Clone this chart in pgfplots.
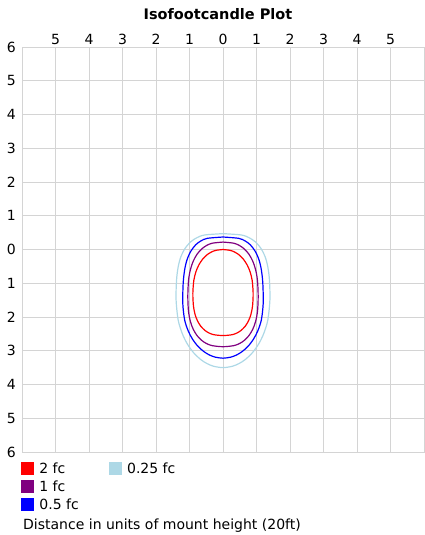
\documentclass[border=0pt]{standalone}
\usepackage{pgfplots}
\pgfplotsset{compat=1.18}
\usepackage{fontspec}
\setmainfont{DejaVu Sans}
\definecolor{gridgray}{HTML}{D4D4D4}
\definecolor{fcred}{HTML}{FF0000}
\definecolor{fcpurple}{HTML}{800080}
\definecolor{fcblue}{HTML}{0000FF}
\definecolor{fclight}{HTML}{ADD8E6}
\pgfplotsset{sq/.style={legend image code/.code={\fill[#1] (0pt,-6pt) rectangle (12pt,6pt);}}}
\begin{document}
\begin{tikzpicture}
\useasboundingbox (-22pt,-83pt) rectangle (402pt,452pt);
\begin{axis}[
 at={(0pt,0pt)}, anchor=south west,
 scale only axis, width=402pt, height=405pt,
 xmin=-6, xmax=6, ymin=-6, ymax=6,
 axis line style={draw=gridgray, line width=0.8pt},
 xtick={-5,...,5}, xticklabels={5,4,3,2,1,0,1,2,3,4,5},
 ytick={-6,...,6}, yticklabels={6,5,4,3,2,1,0,1,2,3,4,5,6},
 xticklabel pos=top,
 major tick length=0pt,
 grid=major, grid style={draw=gridgray, line width=0.8pt},
 tick label style={font=\fontsize{14}{14}\selectfont, inner sep=0pt},
 xticklabel style={anchor=base, yshift=3pt},
 yticklabel style={anchor=east, xshift=-6pt},
 title={Isofootcandle Plot},
 title style={font=\fontsize{14.5}{15}\selectfont\bfseries, at={(rel axis cs:0.5,1)}, anchor=base, yshift=22pt, xshift=-5pt, inner sep=0pt},
 xlabel={Distance in units of mount height (20ft)},
 xlabel style={font=\fontsize{14}{14}\selectfont, at={(rel axis cs:0,0)}, anchor=base west, yshift=-77pt, xshift=1pt, inner sep=0pt},
 legend columns=2,
 legend cell align=left,
 legend style={draw=none, fill=none, at={(0,0)}, anchor=north west, xshift=-1pt, yshift=-10pt, inner sep=0pt, outer sep=0pt, row sep=5.5pt, font=\fontsize{14}{14}\selectfont, nodes={inner sep=1pt, text height=10pt, text depth=0pt}, /tikz/every odd column/.style={column sep=5pt}, /tikz/every even column/.style={column sep=29pt}},
]
\addlegendimage{sq=fcred}\addlegendentry{2 fc}
\addlegendimage{sq=fclight}\addlegendentry{0.25 fc}
\addlegendimage{sq=fcpurple}\addlegendentry{1 fc}
\addlegendimage{empty legend}\addlegendentry{}
\addlegendimage{sq=fcblue}\addlegendentry{0.5 fc}
% 0.25 fc
\addplot[fclight, line width=1.2pt, smooth, tension=0.5, forget plot] coordinates {
(0,0.47) (0.545,0.431) (0.774,0.352) (0.956,0.234) (1.130,0.037) (1.259,-0.2195) (1.338,-0.515) (1.387,-0.909) (1.4,-1.5)
(1.336,-2.1) (1.212,-2.5) (1.064,-2.8) (0.876,-3.06) (0.665,-3.26) (0.477,-3.38) (0.279,-3.46) (0,-3.5)
(-0.279,-3.46) (-0.477,-3.38) (-0.665,-3.26) (-0.876,-3.06) (-1.064,-2.8) (-1.212,-2.5) (-1.336,-2.1) (-1.4,-1.5)
(-1.387,-0.909) (-1.338,-0.515) (-1.259,-0.2195) (-1.130,0.037) (-0.956,0.234) (-0.774,0.352) (-0.545,0.431) (0,0.47)};
% 2 fc
\addplot[fcred, line width=1.2pt, smooth, tension=0.5, forget plot] coordinates {
(0,0) (0.216,-0.026) (0.353,-0.078) (0.475,-0.156) (0.608,-0.286) (0.72,-0.455) (0.805,-0.65) (0.870,-0.91) (0.9,-1.3)
(0.882,-1.675) (0.833,-1.925) (0.762,-2.1125) (0.662,-2.275) (0.536,-2.4) (0.414,-2.475) (0.27,-2.525) (0,-2.55)
(-0.27,-2.525) (-0.414,-2.475) (-0.536,-2.4) (-0.662,-2.275) (-0.762,-2.1125) (-0.833,-1.925) (-0.882,-1.675) (-0.9,-1.3)
(-0.870,-0.91) (-0.805,-0.65) (-0.72,-0.455) (-0.608,-0.286) (-0.475,-0.156) (-0.353,-0.078) (-0.216,-0.026) (0,0)};
% 1 fc
\addplot[fcpurple, line width=1.2pt, smooth, tension=0.5, forget plot] coordinates {
(0,0.22) (0.315,0.188) (0.483,0.123) (0.625,0.026) (0.772,-0.136) (0.889,-0.347) (0.971,-0.59) (1.029,-0.914) (1.05,-1.4)
(1.029,-1.844) (0.971,-2.14) (0.889,-2.362) (0.772,-2.554) (0.625,-2.702) (0.483,-2.791) (0.315,-2.85) (0,-2.88)
(-0.315,-2.85) (-0.483,-2.791) (-0.625,-2.702) (-0.772,-2.554) (-0.889,-2.362) (-0.971,-2.14) (-1.029,-1.844) (-1.05,-1.4)
(-1.029,-0.914) (-0.971,-0.59) (-0.889,-0.347) (-0.772,-0.136) (-0.625,0.026) (-0.483,0.123) (-0.315,0.188) (0,0.22)};
% 0.5 fc
\addplot[fcblue, line width=1.2pt, smooth, tension=0.5, forget plot] coordinates {
(0,0.37) (0.467,0.331) (0.664,0.252) (0.82,0.134) (0.968,-0.063) (1.079,-0.3195) (1.147,-0.615) (1.189,-1.009) (1.2,-1.6)
(1.145,-2.086) (1.039,-2.41) (0.912,-2.653) (0.751,-2.864) (0.57,-3.026) (0.409,-3.123) (0.239,-3.188) (0,-3.22)
(-0.239,-3.188) (-0.409,-3.123) (-0.57,-3.026) (-0.751,-2.864) (-0.912,-2.653) (-1.039,-2.41) (-1.145,-2.086) (-1.2,-1.6)
(-1.189,-1.009) (-1.147,-0.615) (-1.079,-0.3195) (-0.968,-0.063) (-0.82,0.134) (-0.664,0.252) (-0.467,0.331) (0,0.37)};
\end{axis}
\end{tikzpicture}
\end{document}
